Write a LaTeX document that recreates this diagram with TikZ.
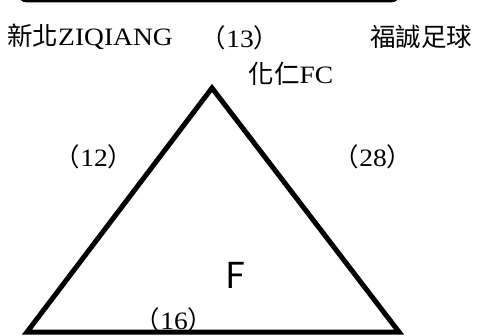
\documentclass[tikz,border=0pt]{standalone}
\usepackage{fontspec}
\setmainfont{Liberation Serif}[FakeStretch=1.1]
\newfontfamily\cjk[Scale=1.02]{Noto Sans CJK TC}
\usetikzlibrary{positioning}
\newcommand{\score}[1]{{\cjk （}#1{\cjk ）}}
\newcommand{\team}[4][]{
	\node [label text] (#1) at (#2, #3) {#4};
}
\tikzset{
	label text/.style={inner sep=0pt, font=\fontsize{25}{25}\selectfont},
	side/.style={line width=5pt, line join=miter}
}
\begin{document}
\begin{tikzpicture}[x=1pt, y=-1pt]
		\useasboundingbox (0,0) rectangle (500,335);
		\clip (0,0) rectangle (500,335);
		% frame above the picture
		\draw [line width=2.5pt, rounded corners=6pt] (20,-30) rectangle (398,1);
		
		\coordinate (top) at (212,88);
		\coordinate (left) at (27,332);
		\coordinate (right) at (399,332);
		\draw [side] (top) -- (right) -- (left) -- cycle;
		
		\team[xinbei]{90}{37}{{\cjk 新北}ZIQIANG}
		\team[fucheng]{421}{37}{\cjk 福誠足球}
		\team[huaren]{291}{74}{{\cjk 化仁}FC}
		\team[s13]{240}{38}{\score{13}}
		\team[s12]{94}{157}{\score{12}}
		\team[s28]{373}{157}{\score{28}}
		\team[s16]{174}{320}{\score{16}}
		\node [inner sep=0pt, font=\cjk\fontsize{35}{35}\selectfont] (group) at (235,275) {F};
		\end{tikzpicture}
\end{document}
